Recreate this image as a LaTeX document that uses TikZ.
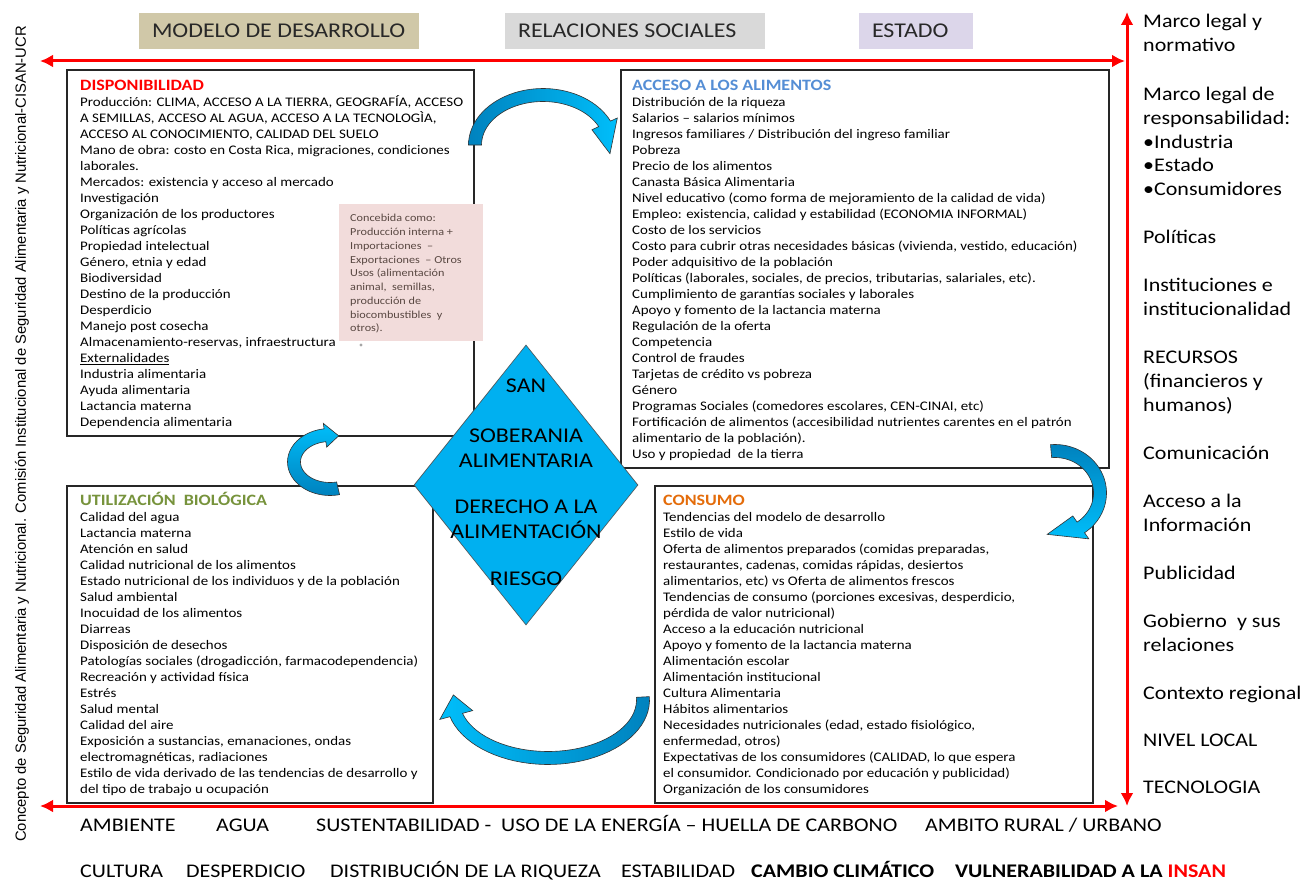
\documentclass[tikz,border=0pt]{standalone}
\usepackage{fontspec}
\setmainfont{Carlito}[FakeStretch=1.14]
\newfontfamily\arialf{Liberation Sans}
\usetikzlibrary{shapes.geometric,arrows.meta,calc}
\definecolor{cyanA}{RGB}{0,190,250}
\definecolor{cyanD}{RGB}{0,130,190}
\definecolor{cyanM}{RGB}{0,176,240}
\definecolor{redA}{RGB}{255,0,0}
\definecolor{tanA}{RGB}{208,200,168}
\definecolor{greyA}{RGB}{217,217,217}
\definecolor{lavA}{RGB}{220,214,234}
\definecolor{pinkA}{RGB}{242,220,219}
\definecolor{blueT}{RGB}{85,142,213}
\definecolor{greenT}{RGB}{119,147,60}
\definecolor{orangeT}{RGB}{228,108,10}
\definecolor{noteT}{RGB}{89,72,66}
\definecolor{hdrT}{RGB}{40,40,40}
\newcommand{\blockarr}[9]{%
  \path[barrow] plot[domain=#5:#6,samples=40] ({#1+(#3+#8)*cos(\x)},{#2+(#4+#8)*sin(\x)})
   -- ({#1+(#3+#9)*cos(#6)},{#2+(#4+#9)*sin(#6)})
   -- ({#1+#3*cos(#7)},{#2+#4*sin(#7)})
   -- ({#1+(#3-#9)*cos(#6)},{#2+(#4-#9)*sin(#6)})
   -- plot[domain=#6:#5,samples=40] ({#1+(#3-#8)*cos(\x)},{#2+(#4-#8)*sin(\x)})
   -- cycle;}
\newcommand{\boxtitle}[2]{\smash{\fontsize{15.8}{16}\selectfont\textbf{\color{#1}#2}}}
\begin{document}
\begin{tikzpicture}[x=1pt,y=-1pt,
  panel/.style={draw=black!85, line width=1.1pt, inner sep=0pt, fill=white},
  boxtext/.style={anchor=north west, inner sep=0pt, align=left, font=\fontsize{13.1}{16}\selectfont},
  hdr/.style={inner sep=0pt},
  hdrtext/.style={anchor=west, inner sep=0pt, text=hdrT, font=\fontsize{21}{24}\selectfont},
  rcol/.style={anchor=north west, inner sep=0pt, align=left, font=\fontsize{19.3}{23.6}\selectfont},
  btext/.style={anchor=base west, inner sep=0pt, font=\fontsize{19.3}{23}\selectfont},
  redarrow/.style={draw=redA, line width=3pt, {Latex[length=13pt,width=13pt]}-{Latex[length=13pt,width=13pt]}},
  barrowbase/.style={draw=black!80, line width=0.6pt},
  note/.style={fill=pinkA, inner sep=0pt},
  notetext/.style={anchor=north west, inner sep=0pt, align=left, text=noteT, font=\fontsize{10.7}{13.75}\selectfont},
  diam/.style={diamond, fill=cyanM, draw=black!70, line width=0.6pt, inner sep=0pt},
  diamtext/.style={anchor=north, inner sep=0pt, align=center, font=\fontsize{21}{25}\selectfont}
]
\useasboundingbox (0,0) rectangle (1303,880);
\fill[white] (0,0) rectangle (1303,880);

% header boxes
\node[hdr, fill=tanA, minimum width=280pt, minimum height=36pt] (h1) at (279,31) {};
\node[hdrtext] (h1t) at ($(h1.west)+(13,0)$) {MODELO DE DESARROLLO};
\node[hdr, fill=greyA, minimum width=260pt, minimum height=36pt] (h2) at (635,31) {};
\node[hdrtext] (h2t) at ($(h2.west)+(13,0)$) {RELACIONES SOCIALES};
\node[hdr, fill=lavA, minimum width=114pt, minimum height=36pt] (h3) at (916,31) {};
\node[hdrtext] (h3t) at ($(h3.west)+(13,0)$) {ESTADO};

% left vertical credit
\node[rotate=90, inner sep=0pt, font=\arialf\fontsize{14.8}{17}\selectfont] (credit) at (22,434)
 {Concepto de Seguridad Alimentaria y Nutricional. Comisión Institucional de Seguridad Alimentaria y Nutricional-CISAN-UCR};

% red arrows
\coordinate (tl) at (40,61); \coordinate (tr) at (1125,61);
\coordinate (bl) at (40,806); \coordinate (br) at (1118,806);
\coordinate (vt) at (1127,12); \coordinate (vb) at (1127,806);
\draw[redarrow] (tl) -- (tr);
\draw[redarrow] (bl) -- (br);
\draw[redarrow] (vt) -- (vb);

% panels
\node[panel, minimum width=407pt, minimum height=366pt] (disp) at (270.5,253) {};
\node[panel, minimum width=488pt, minimum height=398pt] (acc) at (865,269) {};
\node[panel, minimum width=366pt, minimum height=317pt] (util) at (250,644.5) {};
\node[panel, minimum width=438pt, minimum height=317pt] (cons) at (874,644.5) {};

\node[boxtext] (dispt) at (80,79) {\strut\boxtitle{redA}{DISPONIBILIDAD}\\
Producción: CLIMA, ACCESO A LA TIERRA, GEOGRAFÍA, ACCESO\\
A SEMILLAS, ACCESO AL AGUA, ACCESO A LA TECNOLOGÌA,\\
ACCESO AL CONOCIMIENTO, CALIDAD DEL SUELO\\
Mano de obra: costo en Costa Rica, migraciones, condiciones\\
laborales.\\
Mercados: existencia y acceso al mercado\\
Investigación\\
Organización de los productores\\
Políticas agrícolas\\
Propiedad intelectual\\
Género, etnia y edad\\
Biodiversidad\\
Destino de la producción\\
Desperdicio\\
Manejo post cosecha\\
Almacenamiento-reservas, infraestructura\\
\underline{Externalidades}\\
Industria alimentaria\\
Ayuda alimentaria\\
Lactancia materna\\
Dependencia alimentaria};

\node[boxtext] (acct) at (632,79) {\strut\boxtitle{blueT}{ACCESO A LOS ALIMENTOS}\\
Distribución de la riqueza\\
Salarios – salarios mínimos\\
Ingresos familiares / Distribución del ingreso familiar\\
Pobreza\\
Precio de los alimentos\\
Canasta Básica Alimentaria\\
Nivel educativo (como forma de mejoramiento de la calidad de vida)\\
Empleo: existencia, calidad y estabilidad (ECONOMIA INFORMAL)\\
Costo de los servicios\\
Costo para cubrir otras necesidades básicas (vivienda,  vestido, educación)\\
Poder adquisitivo de la población\\
Políticas (laborales, sociales, de precios, tributarias, salariales, etc).\\
Cumplimiento de garantías sociales y laborales\\
Apoyo y fomento de la lactancia materna\\
Regulación de la oferta\\
Competencia\\
Control de fraudes\\
Tarjetas de crédito vs pobreza\\
Género\\
Programas Sociales (comedores escolares, CEN-CINAI, etc)\\
Fortificación de alimentos (accesibilidad nutrientes carentes en el patrón\\
alimentario de la población).\\
Uso y propiedad \ de la tierra};

\node[boxtext] (utilt) at (80,494) {\strut\boxtitle{greenT}{UTILIZACIÓN \ BIOLÓGICA}\\
Calidad del agua\\
Lactancia materna\\
Atención en salud\\
Calidad nutricional de los alimentos\\
Estado nutricional de los individuos y de la población\\
Salud ambiental\\
Inocuidad de los alimentos\\
Diarreas\\
Disposición de desechos\\
Patologías sociales (drogadicción, farmacodependencia)\\
Recreación y actividad física\\
Estrés\\
Salud mental\\
Calidad del aire\\
Exposición a sustancias, emanaciones, ondas\\
electromagnéticas, radiaciones\\
Estilo de vida derivado de las tendencias de desarrollo y\\
del tipo de trabajo u ocupación};

\node[boxtext] (const) at (663,494) {\strut\boxtitle{orangeT}{CONSUMO}\\
Tendencias del modelo de desarrollo\\
Estilo de vida\\
Oferta de alimentos preparados (comidas preparadas,\\
restaurantes, cadenas, comidas rápidas, desiertos\\
alimentarios, etc) vs Oferta de alimentos frescos\\
Tendencias de consumo (porciones excesivas, desperdicio,\\
pérdida de valor nutricional)\\
Acceso a la educación nutricional\\
Apoyo y fomento de la lactancia materna\\
Alimentación escolar\\
Alimentación institucional\\
Cultura Alimentaria\\
Hábitos alimentarios\\
Necesidades nutricionales (edad, estado fisiológico,\\
enfermedad, otros)\\
Expectativas de los consumidores (CALIDAD, lo que espera\\
el consumidor. Condicionado por educación y publicidad)\\
Organización de los consumidores};

% pink note
\node[note, minimum width=144pt, minimum height=137pt] (pnote) at (411,272.5) {};
\node[notetext] (pnotet) at (350,212) {\strut Concebida como:\\
Producción interna +\\
Importaciones \ –\\
Exportaciones \ – Otros\\
Usos (alimentación\\
animal, \ semillas,\\
producción de\\
biocombustibles \ y\\
otros).};
\fill[black!35] (361,345) circle (1.6);

% diamond
\node[diam, minimum width=224pt, minimum height=280pt] (dia) at (526,485) {};
\node[diamtext] (diat) at (526,375) {\strut SAN\\[25pt]
SOBERANIA\\
ALIMENTARIA\\[21pt]
DERECHO A LA\\
ALIMENTACIÓN\\[22pt]
RIESGO};

% curved block arrows
\begin{scope}[barrow/.style={barrowbase, left color=cyanD, right color=cyanA}]
\blockarr{543}{145}{68}{50}{180}{335}{370}{6.5}{14}
\end{scope}
\begin{scope}[barrow/.style={barrowbase, top color=cyanD, bottom color=cyanA}]
\blockarr{1055}{493}{45}{42}{-95}{55}{100}{6.5}{14}
\end{scope}
\begin{scope}[barrow/.style={barrowbase, top color=cyanA, bottom color=cyanD}]
\blockarr{330}{462}{36}{27}{77}{262}{284}{6.5}{12}
\end{scope}
\begin{scope}[barrow/.style={barrowbase, left color=cyanA, right color=cyanD}]
\blockarr{548}{700}{95}{58}{-3}{165}{185}{6.5}{17}
\end{scope}

% right column
\node[rcol] (r1) at (1143,11.1) {\strut Marco legal y\\normativo};
\node[rcol] (r2) at (1143,84.1) {\strut Marco legal de\\responsabilidad:\\•Industria\\•Estado\\•Consumidores};
\node[rcol] (r3) at (1143,227.1) {\strut Políticas};
\node[rcol] (r4) at (1143,275.1) {\strut Instituciones e\\institucionalidad};
\node[rcol] (r5) at (1143,347.1) {\strut RECURSOS\\(financieros y\\humanos)};
\node[rcol] (r6) at (1143,443.1) {\strut Comunicación};
\node[rcol] (r7) at (1143,491.1) {\strut Acceso a la\\Información};
\node[rcol] (r8) at (1143,563.1) {\strut Publicidad};
\node[rcol] (r9) at (1143,611.1) {\strut Gobierno \ y sus\\relaciones};
\node[rcol] (r10) at (1143,683.1) {\strut Contexto regional};
\node[rcol] (r11) at (1143,730.1) {\strut NIVEL LOCAL};
\node[rcol] (r12) at (1143,777.1) {\strut TECNOLOGIA};

% bottom rows
\node[btext] (b1) at (80,831.6) {AMBIENTE};
\node[btext] (b2) at (216,831.6) {AGUA};
\node[btext] (b3) at (316,831.6) {SUSTENTABILIDAD - \ USO DE LA ENERGÍA – HUELLA DE CARBONO};
\node[btext] (b4) at (925,831.6) {AMBITO RURAL / URBANO};
\node[btext] (c1) at (80,877.6) {CULTURA};
\node[btext] (c2) at (186,877.6) {DESPERDICIO};
\node[btext] (c3) at (330,877.6) {DISTRIBUCIÓN DE LA RIQUEZA};
\node[btext] (c4) at (621,877.6) {ESTABILIDAD};
\node[btext] (c5) at (751,877.6) {\textbf{CAMBIO CLIMÁTICO}};
\node[btext] (c6) at (955,877.6) {\textbf{VULNERABILIDAD A LA {\color{redA}INSAN}}};
\end{tikzpicture}
\end{document}
